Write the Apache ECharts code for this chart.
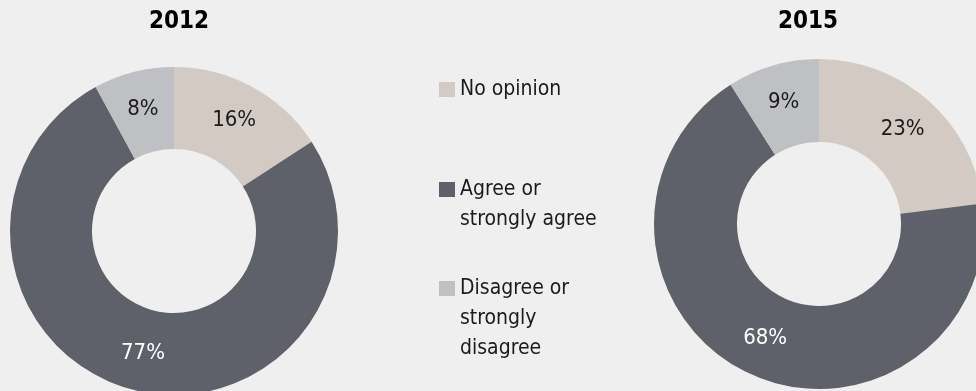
<!DOCTYPE html>
<html>
<head>
<meta charset="utf-8">
<script src="https://cdn.jsdelivr.net/npm/echarts@6/dist/echarts.min.js"></script>
<style>
  html, body { margin: 0; padding: 0; background: #efefef; }
  #chart { width: 976px; height: 391px; }
</style>
</head>
<body>
<div id="chart"></div>
<script>
// Survey answers, share of respondents (%)
const categories = ['No opinion', 'Agree or\nstrongly agree', 'Disagree or\nstrongly\ndisagree'];
const years = ['2012', '2015'];
const values2012 = [16, 77, 8];
const values2015 = [23, 68, 9];

const colors = ['#d3cbc3', '#5e6169', '#bfc0c4'];
const labelColors = ['#1b1b1b', '#ffffff', '#1b1b1b'];
const FONT = '"Liberation Sans Narrow", "DejaVu Sans Condensed", sans-serif';
const LINE_H = 30;

const chart = echarts.init(document.getElementById('chart'), null, { renderer: 'canvas' });

function pieData(values) {
  return categories.map((name, i) => ({
    name: name,
    value: values[i],
    itemStyle: { color: colors[i] },
    label: { color: labelColors[i] }
  }));
}

function pieSeries(values, center, radius) {
  return {
    type: 'pie',
    center: center,
    radius: radius,
    startAngle: 90,
    clockwise: true,
    avoidLabelOverlap: false,
    silent: true,
    label: {
      show: true,
      position: 'inside',
      formatter: '{c}%',
      fontFamily: FONT,
      fontSize: 22
    },
    labelLine: { show: false },
    itemStyle: { borderWidth: 0 },
    emphasis: { disabled: true },
    data: pieData(values)
  };
}

// One legend block per category; blank leading lines keep each marker
// level with the first line of its (possibly wrapped) label
const markerCenters = [89.5, 189.5, 288.5];
const legends = categories.map((name, i) => {
  const lines = name.split('\n').length;
  const boxH = (2 * lines - 1) * LINE_H;
  return {
    orient: 'vertical',
    left: 439,
    top: markerCenters[i] - boxH / 2,
    padding: 0,
    itemWidth: 16,
    itemHeight: 15,
    icon: 'rect',
    selectedMode: false,
    data: [name],
    formatter: n => '\n'.repeat(lines - 1) + n,
    textStyle: {
      fontFamily: FONT,
      fontSize: 21,
      lineHeight: LINE_H,
      color: '#1b1b1b'
    }
  };
});

const titleStyle = { fontFamily: FONT, fontWeight: 'bold', fontSize: 24, color: '#000' };

chart.setOption({
  backgroundColor: '#efefef',
  animation: false,
  title: [
    { text: years[0], left: 174, top: 5, textAlign: 'center', textStyle: titleStyle },
    { text: years[1], left: 803, top: 5, textAlign: 'center', textStyle: titleStyle }
  ],
  legend: legends,
  series: [
    pieSeries(values2012, [174, 231], [82, 164]),
    pieSeries(values2015, [819, 224], [82, 165])
  ]
});
</script>
</body>
</html>
